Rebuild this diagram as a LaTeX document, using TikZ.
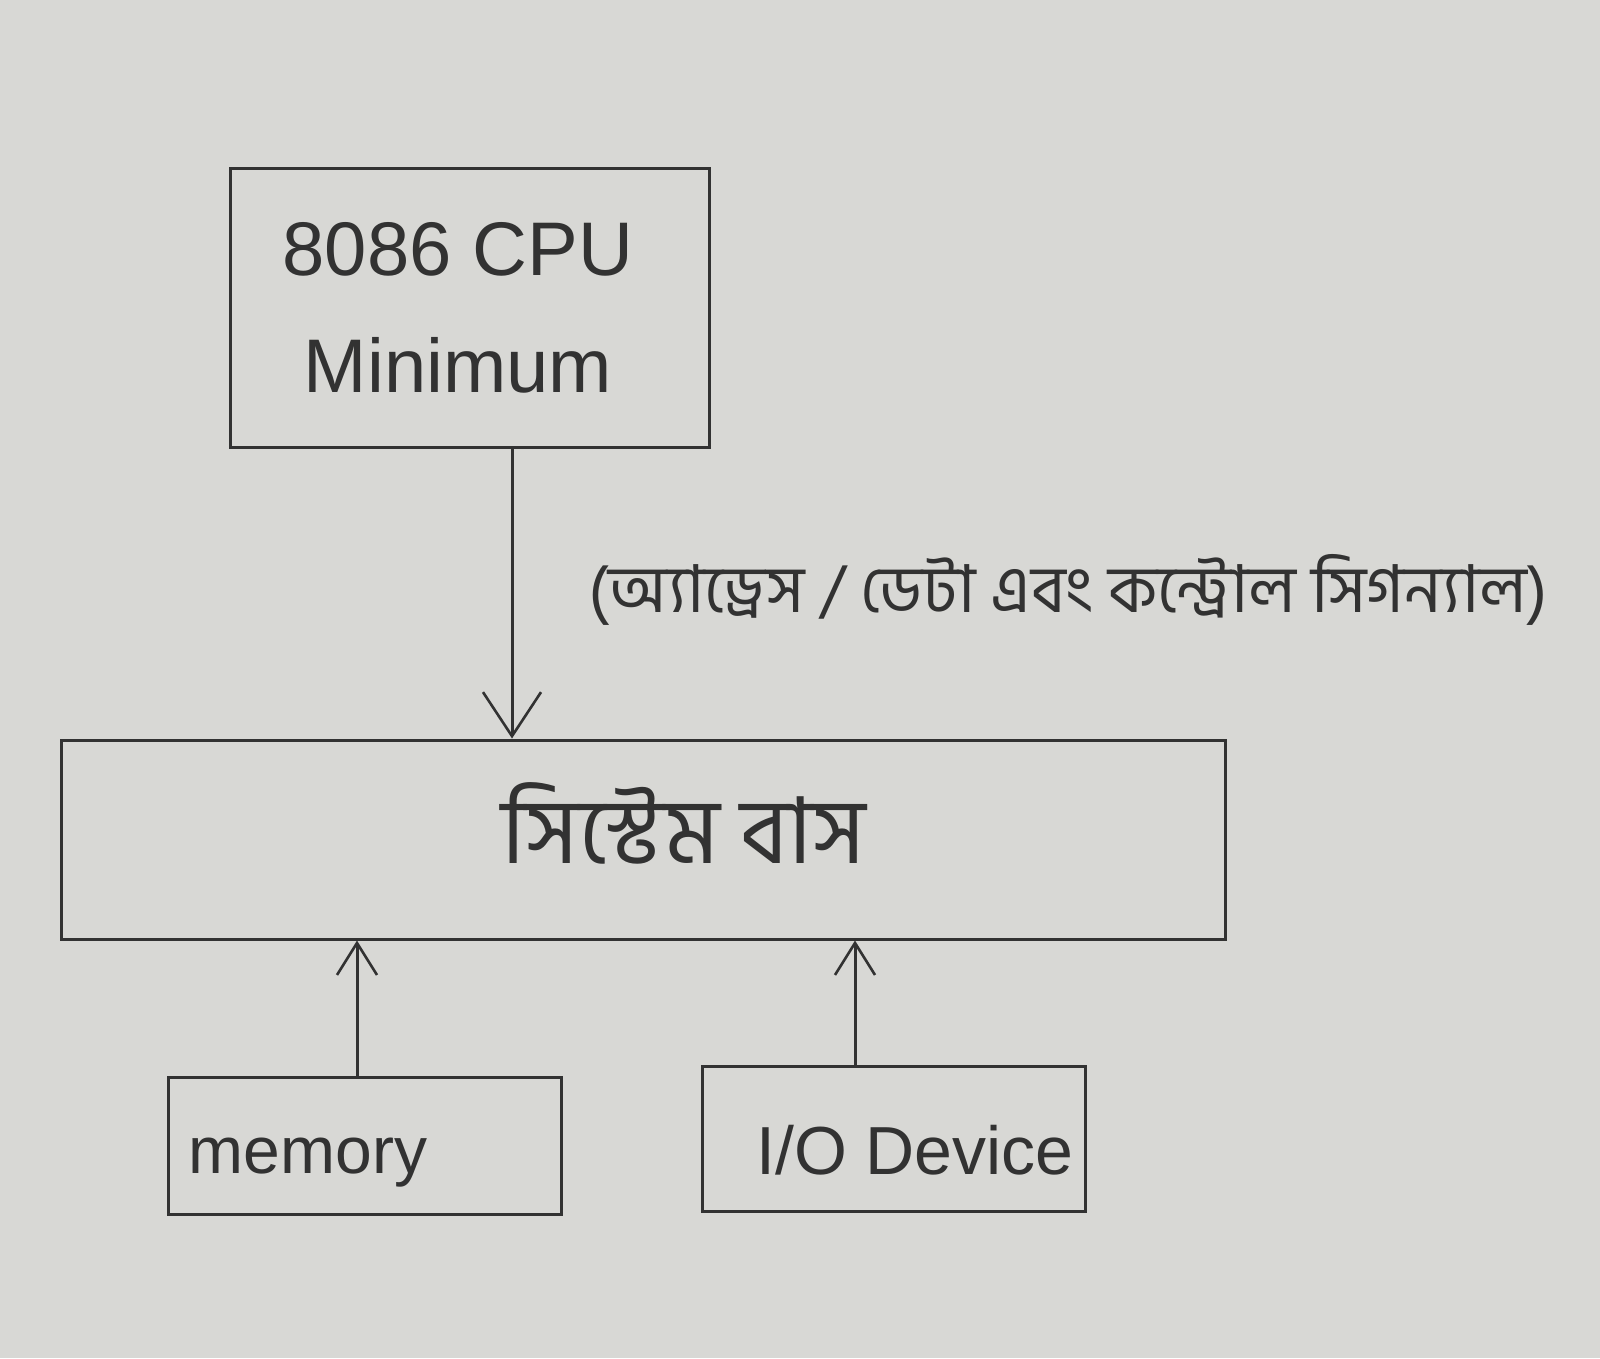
\documentclass[tikz,border=0pt]{standalone}
\usepackage{fontspec}
\setmainfont{Liberation Sans}
\newfontfamily\bnfont[Script=Bengali]{Hind Siliguri}
\usetikzlibrary{arrows.meta}
\definecolor{paper}{RGB}{216,216,213}
\definecolor{ink}{RGB}{50,50,50}
\tikzset{
  blk/.style={draw=ink, line width=3pt, inner sep=0pt},
  txt/.style={text=ink, inner sep=0pt},
  conn/.style={draw=ink, line width=3pt, -{Straight Barb[length=32pt,width=40pt,line width=2.6pt]}},
  bigconn/.style={draw=ink, line width=3pt, -{Straight Barb[length=44pt,width=58pt,line width=2.6pt]}},
}
\begin{document}
\begin{tikzpicture}[x=1pt,y=-1pt]
\fill[paper] (0,0) rectangle (1600,1358);
\useasboundingbox (0,0) rectangle (1600,1358);
\node[blk, minimum width=479pt, minimum height=279pt] (cpu) at (469.5,307.5) {};
\node[txt, align=center, font=\fontsize{76}{117}\selectfont] (cputxt) at (458,308) {8086 CPU\\Minimum};
\node[blk, minimum width=1164pt, minimum height=199pt] (bus) at (643,839.5) {};
\node[txt, font=\bnfont\fontsize{92}{96}\selectfont] (bustxt) at (684,823) {সিস্টেম বাস};
\node[blk, minimum width=393pt, minimum height=137pt] (mem) at (364.5,1145.5) {};
\node[txt, font=\fontsize{66}{70}\selectfont] (memtxt) at (308,1163) {memory};
\node[blk, minimum width=383pt, minimum height=145pt] (io) at (893.5,1138.5) {};
\node[txt, font=\fontsize{68}{72}\selectfont] (iotxt) at (915,1150) {I/O Device};
\draw[bigconn] (cpu.south -| 512,0) -- (bus.north -| 512,0);
\node[txt, anchor=west, font=\bnfont\fontsize{66}{70}\selectfont] (lbl) at (588,590) {(অ্যাড্রেস / ডেটা এবং কন্ট্রোল সিগন্যাল)};
\draw[conn] (mem.north -| 357,0) -- (bus.south -| 357,0);
\draw[conn] (io.north -| 855,0) -- (bus.south -| 855,0);
\end{tikzpicture}
\end{document}
